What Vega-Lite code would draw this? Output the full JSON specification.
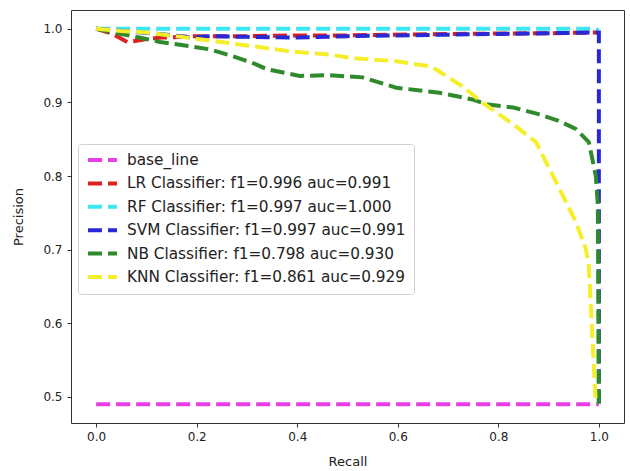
{
  "$schema": "https://vega.github.io/schema/vega-lite/v6.json",
  "width": 553,
  "height": 413,
  "autosize": {"type": "none"},
  "padding": {"left": 71, "top": 10, "right": 6, "bottom": 48},
  "background": "white",
  "config": {
    "font": "DejaVu Sans",
    "view": {"stroke": "#333333", "strokeWidth": 1},
    "axis": {
      "grid": false,
      "domain": false,
      "tickColor": "#333333",
      "tickSize": 4,
      "labelFont": "DejaVu Sans",
      "labelFontSize": 12,
      "labelColor": "#222222",
      "titleFont": "DejaVu Sans",
      "titleFontSize": 13,
      "titleFontWeight": "normal",
      "titleColor": "#222222"
    },
    "legend": {
      "orient": "none",
      "legendX": 7,
      "legendY": 134,
      "padding": 8,
      "strokeColor": "#d0d0d0",
      "fillColor": "white",
      "cornerRadius": 3,
      "labelFont": "DejaVu Sans",
      "labelFontSize": 15.3,
      "labelColor": "#222222",
      "labelLimit": 400,
      "symbolType": "M-1,0H3.83",
      "symbolStrokeWidth": 4,
      "symbolDash": [14, 6],
      "symbolSize": 144,
      "rowPadding": 6.4,
      "labelOffset": 25
    }
  },
  "data": {
    "values": [
      {"series": "base_line", "i": 0, "recall": 0.0, "precision": 0.49},
      {"series": "base_line", "i": 1, "recall": 1.0, "precision": 0.49},

      {"series": "LR Classifier: f1=0.996 auc=0.991", "i": 0, "recall": 0.0, "precision": 1.0},
      {"series": "LR Classifier: f1=0.996 auc=0.991", "i": 1, "recall": 0.03, "precision": 0.994},
      {"series": "LR Classifier: f1=0.996 auc=0.991", "i": 2, "recall": 0.062, "precision": 0.982},
      {"series": "LR Classifier: f1=0.996 auc=0.991", "i": 3, "recall": 0.075, "precision": 0.983},
      {"series": "LR Classifier: f1=0.996 auc=0.991", "i": 4, "recall": 0.1, "precision": 0.986},
      {"series": "LR Classifier: f1=0.996 auc=0.991", "i": 5, "recall": 0.13, "precision": 0.988},
      {"series": "LR Classifier: f1=0.996 auc=0.991", "i": 6, "recall": 0.2, "precision": 0.99},
      {"series": "LR Classifier: f1=0.996 auc=0.991", "i": 7, "recall": 0.3, "precision": 0.99},
      {"series": "LR Classifier: f1=0.996 auc=0.991", "i": 8, "recall": 0.38, "precision": 0.991},
      {"series": "LR Classifier: f1=0.996 auc=0.991", "i": 9, "recall": 0.5, "precision": 0.991},
      {"series": "LR Classifier: f1=0.996 auc=0.991", "i": 10, "recall": 0.7, "precision": 0.993},
      {"series": "LR Classifier: f1=0.996 auc=0.991", "i": 11, "recall": 0.9, "precision": 0.994},
      {"series": "LR Classifier: f1=0.996 auc=0.991", "i": 12, "recall": 1.0, "precision": 0.995},

      {"series": "RF Classifier: f1=0.997 auc=1.000", "i": 0, "recall": 0.0, "precision": 1.0},
      {"series": "RF Classifier: f1=0.997 auc=1.000", "i": 1, "recall": 0.99, "precision": 1.0},
      {"series": "RF Classifier: f1=0.997 auc=1.000", "i": 2, "recall": 1.0, "precision": 0.998},

      {"series": "SVM Classifier: f1=0.997 auc=0.991", "i": 0, "recall": 0.0, "precision": 1.0},
      {"series": "SVM Classifier: f1=0.997 auc=0.991", "i": 1, "recall": 0.09, "precision": 0.995},
      {"series": "SVM Classifier: f1=0.997 auc=0.991", "i": 2, "recall": 0.14, "precision": 0.992},
      {"series": "SVM Classifier: f1=0.997 auc=0.991", "i": 3, "recall": 0.19, "precision": 0.988},
      {"series": "SVM Classifier: f1=0.997 auc=0.991", "i": 4, "recall": 0.23, "precision": 0.99},
      {"series": "SVM Classifier: f1=0.997 auc=0.991", "i": 5, "recall": 0.3, "precision": 0.989},
      {"series": "SVM Classifier: f1=0.997 auc=0.991", "i": 6, "recall": 0.4, "precision": 0.988},
      {"series": "SVM Classifier: f1=0.997 auc=0.991", "i": 7, "recall": 0.5, "precision": 0.99},
      {"series": "SVM Classifier: f1=0.997 auc=0.991", "i": 8, "recall": 0.6, "precision": 0.991},
      {"series": "SVM Classifier: f1=0.997 auc=0.991", "i": 9, "recall": 0.7, "precision": 0.992},
      {"series": "SVM Classifier: f1=0.997 auc=0.991", "i": 10, "recall": 0.8, "precision": 0.993},
      {"series": "SVM Classifier: f1=0.997 auc=0.991", "i": 11, "recall": 0.9, "precision": 0.994},
      {"series": "SVM Classifier: f1=0.997 auc=0.991", "i": 12, "recall": 1.0, "precision": 0.995},
      {"series": "SVM Classifier: f1=0.997 auc=0.991", "i": 13, "recall": 1.0, "precision": 0.49},

      {"series": "NB Classifier: f1=0.798 auc=0.930", "i": 0, "recall": 0.0, "precision": 1.0},
      {"series": "NB Classifier: f1=0.798 auc=0.930", "i": 1, "recall": 0.05, "precision": 0.993},
      {"series": "NB Classifier: f1=0.798 auc=0.930", "i": 2, "recall": 0.1, "precision": 0.986},
      {"series": "NB Classifier: f1=0.798 auc=0.930", "i": 3, "recall": 0.127, "precision": 0.982},
      {"series": "NB Classifier: f1=0.798 auc=0.930", "i": 4, "recall": 0.18, "precision": 0.977},
      {"series": "NB Classifier: f1=0.798 auc=0.930", "i": 5, "recall": 0.226, "precision": 0.972},
      {"series": "NB Classifier: f1=0.798 auc=0.930", "i": 6, "recall": 0.27, "precision": 0.963},
      {"series": "NB Classifier: f1=0.798 auc=0.930", "i": 7, "recall": 0.31, "precision": 0.954},
      {"series": "NB Classifier: f1=0.798 auc=0.930", "i": 8, "recall": 0.34, "precision": 0.945},
      {"series": "NB Classifier: f1=0.798 auc=0.930", "i": 9, "recall": 0.405, "precision": 0.936},
      {"series": "NB Classifier: f1=0.798 auc=0.930", "i": 10, "recall": 0.464, "precision": 0.937},
      {"series": "NB Classifier: f1=0.798 auc=0.930", "i": 11, "recall": 0.53, "precision": 0.934},
      {"series": "NB Classifier: f1=0.798 auc=0.930", "i": 12, "recall": 0.597, "precision": 0.92},
      {"series": "NB Classifier: f1=0.798 auc=0.930", "i": 13, "recall": 0.683, "precision": 0.913},
      {"series": "NB Classifier: f1=0.798 auc=0.930", "i": 14, "recall": 0.748, "precision": 0.904},
      {"series": "NB Classifier: f1=0.798 auc=0.930", "i": 15, "recall": 0.78, "precision": 0.897},
      {"series": "NB Classifier: f1=0.798 auc=0.930", "i": 16, "recall": 0.83, "precision": 0.893},
      {"series": "NB Classifier: f1=0.798 auc=0.930", "i": 17, "recall": 0.88, "precision": 0.884},
      {"series": "NB Classifier: f1=0.798 auc=0.930", "i": 18, "recall": 0.92, "precision": 0.875},
      {"series": "NB Classifier: f1=0.798 auc=0.930", "i": 19, "recall": 0.954, "precision": 0.864},
      {"series": "NB Classifier: f1=0.798 auc=0.930", "i": 20, "recall": 0.98, "precision": 0.846},
      {"series": "NB Classifier: f1=0.798 auc=0.930", "i": 21, "recall": 0.994, "precision": 0.8},
      {"series": "NB Classifier: f1=0.798 auc=0.930", "i": 22, "recall": 0.998, "precision": 0.76},
      {"series": "NB Classifier: f1=0.798 auc=0.930", "i": 23, "recall": 1.0, "precision": 0.49},

      {"series": "KNN Classifier: f1=0.861 auc=0.929", "i": 0, "recall": 0.0, "precision": 1.0},
      {"series": "KNN Classifier: f1=0.861 auc=0.929", "i": 1, "recall": 0.05, "precision": 0.997},
      {"series": "KNN Classifier: f1=0.861 auc=0.929", "i": 2, "recall": 0.1, "precision": 0.995},
      {"series": "KNN Classifier: f1=0.861 auc=0.929", "i": 3, "recall": 0.17, "precision": 0.989},
      {"series": "KNN Classifier: f1=0.861 auc=0.929", "i": 4, "recall": 0.26, "precision": 0.981},
      {"series": "KNN Classifier: f1=0.861 auc=0.929", "i": 5, "recall": 0.39, "precision": 0.969},
      {"series": "KNN Classifier: f1=0.861 auc=0.929", "i": 6, "recall": 0.464, "precision": 0.965},
      {"series": "KNN Classifier: f1=0.861 auc=0.929", "i": 7, "recall": 0.51, "precision": 0.96},
      {"series": "KNN Classifier: f1=0.861 auc=0.929", "i": 8, "recall": 0.597, "precision": 0.956},
      {"series": "KNN Classifier: f1=0.861 auc=0.929", "i": 9, "recall": 0.663, "precision": 0.949},
      {"series": "KNN Classifier: f1=0.861 auc=0.929", "i": 10, "recall": 0.678, "precision": 0.944},
      {"series": "KNN Classifier: f1=0.861 auc=0.929", "i": 11, "recall": 0.728, "precision": 0.922},
      {"series": "KNN Classifier: f1=0.861 auc=0.929", "i": 12, "recall": 0.768, "precision": 0.9},
      {"series": "KNN Classifier: f1=0.861 auc=0.929", "i": 13, "recall": 0.83, "precision": 0.87},
      {"series": "KNN Classifier: f1=0.861 auc=0.929", "i": 14, "recall": 0.875, "precision": 0.846},
      {"series": "KNN Classifier: f1=0.861 auc=0.929", "i": 15, "recall": 0.915, "precision": 0.792},
      {"series": "KNN Classifier: f1=0.861 auc=0.929", "i": 16, "recall": 0.954, "precision": 0.738},
      {"series": "KNN Classifier: f1=0.861 auc=0.929", "i": 17, "recall": 0.974, "precision": 0.701},
      {"series": "KNN Classifier: f1=0.861 auc=0.929", "i": 18, "recall": 0.98, "precision": 0.678},
      {"series": "KNN Classifier: f1=0.861 auc=0.929", "i": 19, "recall": 0.99, "precision": 0.543},
      {"series": "KNN Classifier: f1=0.861 auc=0.929", "i": 20, "recall": 0.994, "precision": 0.49}
    ]
  },
  "mark": {"type": "line", "strokeWidth": 4, "strokeDash": [14, 6], "clip": true},
  "encoding": {
    "x": {
      "field": "recall",
      "type": "quantitative",
      "title": "Recall",
      "scale": {"domain": [-0.05, 1.05], "nice": false, "zero": false},
      "axis": {"values": [0, 0.2, 0.4, 0.6, 0.8, 1.0], "format": ".1f", "labelPadding": 4, "titlePadding": 13}
    },
    "y": {
      "field": "precision",
      "type": "quantitative",
      "title": "Precision",
      "scale": {"domain": [0.4645, 1.0255], "nice": false, "zero": false},
      "axis": {"values": [0.5, 0.6, 0.7, 0.8, 0.9, 1.0], "format": ".1f", "labelPadding": 5, "titlePadding": 17}
    },
    "color": {
      "field": "series",
      "type": "nominal",
      "title": null,
      "sort": null,
      "scale": {
        "domain": [
          "base_line",
          "LR Classifier: f1=0.996 auc=0.991",
          "RF Classifier: f1=0.997 auc=1.000",
          "SVM Classifier: f1=0.997 auc=0.991",
          "NB Classifier: f1=0.798 auc=0.930",
          "KNN Classifier: f1=0.861 auc=0.929"
        ],
        "range": ["#e83ee8", "#e0201c", "#3ee6f2", "#2828d6", "#2e8a2a", "#f5ee2a"]
      }
    },
    "order": {"field": "i", "type": "quantitative"}
  }
}
